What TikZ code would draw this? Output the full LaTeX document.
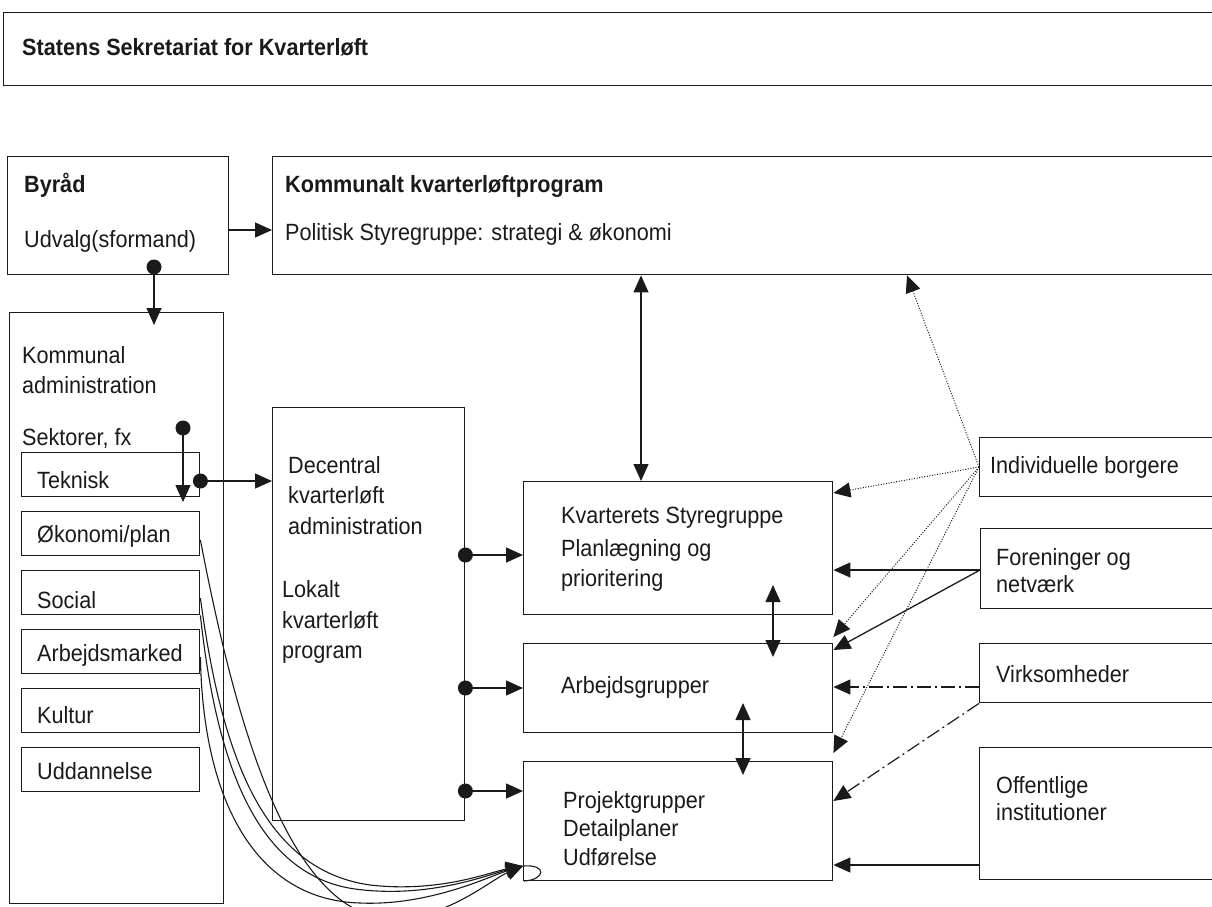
\documentclass[tikz,border=0pt]{standalone}
\usepackage{fontspec}
\setmainfont{Liberation Sans}[FakeStretch=0.92]
\usetikzlibrary{arrows.meta}
\definecolor{ink}{HTML}{1A1A1A}
\begin{document}
\begin{tikzpicture}[x=1pt,y=-1pt,
  box/.style={draw=ink, line width=1.4pt, inner sep=0pt, anchor=north west},
  txt/.style={anchor=base west, inner sep=0pt, text=ink, font=\fontsize{23.5}{28}\selectfont},
  btxt/.style={anchor=base west, inner sep=0pt, text=ink, font=\fontsize{23.5}{28}\selectfont\bfseries},
  conn/.style={draw=ink, line width=1.3pt},
  arr/.style={conn, -{Triangle[length=17pt,width=15pt]}},
  darr/.style={conn, {Triangle[length=17pt,width=15pt]}-{Triangle[length=17pt,width=15pt]}},
  dotarr/.style={arr, line width=1pt, dash pattern=on 1pt off 1.6pt},
  dasharr/.style={arr, line width=1.2pt, dash pattern=on 14pt off 4pt on 2pt off 4pt},
  dotmark/.style={fill=ink}
]
\useasboundingbox (0,0) rectangle (1212,906);
\clip (0,0) rectangle (1212,906);

% boxes
\node[box, minimum width=1240pt, minimum height=73pt] (stat) at (3,12) {};
\node[box, minimum width=221pt, minimum height=118pt] (byrad) at (7,156) {};
\node[box, minimum width=960pt, minimum height=118pt] (komm) at (272,156) {};
\node[box, minimum width=214pt, minimum height=591pt] (adm) at (9,312) {};
\node[box, minimum width=178pt, minimum height=44pt] (tek) at (21,452) {};
\node[box, minimum width=178pt, minimum height=44pt] (oko) at (21,511) {};
\node[box, minimum width=178pt, minimum height=44pt] (soc) at (21,570) {};
\node[box, minimum width=178pt, minimum height=44pt] (arbm) at (21,629) {};
\node[box, minimum width=178pt, minimum height=44pt] (kul) at (21,688) {};
\node[box, minimum width=178pt, minimum height=44pt] (udd) at (21,747) {};
\node[box, minimum width=192pt, minimum height=413pt] (dec) at (272,407) {};
\node[box, minimum width=309pt, minimum height=133pt] (kvs) at (523,481) {};
\node[box, minimum width=309pt, minimum height=89pt] (arb) at (523,643) {};
\node[box, minimum width=309pt, minimum height=119pt] (proj) at (523,761) {};
\node[box, minimum width=260pt, minimum height=59pt] (indiv) at (979,437) {};
\node[box, minimum width=260pt, minimum height=80pt] (foren) at (980,528) {};
\node[box, minimum width=260pt, minimum height=59pt] (virk) at (979,643) {};
\node[box, minimum width=260pt, minimum height=132pt] (off) at (979,747) {};

% texts
\node[btxt] (tstat) at (22,55) {Statens Sekretariat for Kvarterløft};
\node[btxt] (tbyrad) at (24,192) {Byråd};
\node[txt] (tudv) at (24,247) {Udvalg(sformand)};
\node[btxt] (tkomm) at (285,192) {Kommunalt kvarterløftprogram};
\node[txt] (tpol) at (285,240) {Politisk Styregruppe: strategi \& økonomi};
\node[txt] (tkom1) at (22,363) {Kommunal};
\node[txt] (tkom2) at (22,393) {administration};
\node[txt] (tsek) at (22,445) {Sektorer, fx};
\node[txt] (ttek) at (37,488) {Teknisk};
\node[txt] (toko) at (37,542) {Økonomi/plan};
\node[txt] (tsoc) at (37,608) {Social};
\node[txt] (tarbm) at (37,661) {Arbejdsmarked};
\node[txt] (tkul) at (37,723) {Kultur};
\node[txt] (tudd) at (37,779) {Uddannelse};
\node[txt] (tdec1) at (288,473) {Decentral};
\node[txt] (tdec2) at (288,503) {kvarterløft};
\node[txt] (tdec3) at (288,534) {administration};
\node[txt] (tlok1) at (282,597) {Lokalt};
\node[txt] (tlok2) at (282,628) {kvarterløft};
\node[txt] (tlok3) at (282,658) {program};
\node[txt] (tkvs1) at (561,523) {Kvarterets Styregruppe};
\node[txt] (tkvs2) at (561,556) {Planlægning og};
\node[txt] (tkvs3) at (561,586) {prioritering};
\node[txt] (tarb) at (561,693) {Arbejdsgrupper};
\node[txt] (tproj1) at (563,808) {Projektgrupper};
\node[txt] (tproj2) at (563,836) {Detailplaner};
\node[txt] (tproj3) at (563,865) {Udførelse};
\node[txt] (tind) at (990,473) {Individuelle borgere};
\node[txt] (tfor1) at (996,565) {Foreninger og};
\node[txt] (tfor2) at (996,592) {netværk};
\node[txt] (tvirk) at (996,682) {Virksomheder};
\node[txt] (toff1) at (996,793) {Offentlige};
\node[txt] (toff2) at (996,820) {institutioner};

% connectors top-left
\draw[arr] (byrad.east |- 0,230) -- (komm.west |- 0,230);
\coordinate (d1) at (154,267);
\fill[dotmark] (d1) circle[radius=7.5pt];
\draw[arr] (d1) -- (154,325);
\coordinate (d2) at (183,428);
\fill[dotmark] (d2) circle[radius=7.5pt];
\draw[arr] (d2) -- (183,502);
\coordinate (d3) at (tek.east |- 0,481);
\fill[dotmark] (d3) circle[radius=7.5pt];
\draw[arr] (d3) -- (dec.west |- 0,481);

% decentral to groups
\foreach \yy/\tg in {555/kvs,688/arb,791/proj}{
  \fill[dotmark] (dec.east |- 0,\yy) circle[radius=7.5pt];
  \draw[arr] (dec.east |- 0,\yy) -- (\tg.west |- 0,\yy);
}

% vertical double arrows
\draw[darr] (641,0 |- komm.south) -- (641,0 |- kvs.north);
\draw[darr] (773,585) -- (773,657);
\draw[darr] (743,703) -- (743,775);

% right side
\coordinate (ib) at (indiv.west |- 0,467);
\draw[dotarr] (ib) -- (907,0 |- komm.south);
\draw[dotarr] (ib) -- (kvs.east |- 0,493);
\draw[dotarr] (ib) -- ([yshift=6pt]arb.north east);
\draw[dotarr] (ib) -- ([yshift=8pt]proj.north east);
\coordinate (fb) at (foren.west |- 0,570);
\draw[arr] (fb) -- (kvs.east |- 0,570);
\draw[arr] (fb) -- ([yshift=-7pt]arb.north east);
\draw[dasharr] (virk.west |- 0,687) -- (arb.east |- 0,687);
\draw[dasharr] (virk.south west) -- (proj.east |- 0,801);
\draw[arr] (off.west |- 0,865) -- (proj.east |- 0,865);

% curves from sectors to Projektgrupper
\coordinate (pin) at (proj.west |- 0,866);
\draw[arr, line width=1.1pt] (oko.east |- 0,540) .. controls (235,720) and (285,900) .. (380,918) .. controls (440,925) and (490,880) .. (pin);
\draw[arr, line width=1.1pt] (soc.east |- 0,598) .. controls (222,760) and (265,870) .. (370,885) .. controls (440,893) and (490,872) .. (pin);
\draw[arr, line width=1.1pt] (soc.south east) .. controls (216,760) and (255,875) .. (355,889) .. controls (430,899) and (490,874) .. (pin);
\draw[arr, line width=1.1pt] (arbm.east |- 0,657) .. controls (203,800) and (255,900) .. (360,903) .. controls (430,906) and (490,876) .. (pin);
\draw[conn, line width=1.1pt] (pin) .. controls (548,864) and (545,880) .. (524,881);
\end{tikzpicture}
\end{document}
